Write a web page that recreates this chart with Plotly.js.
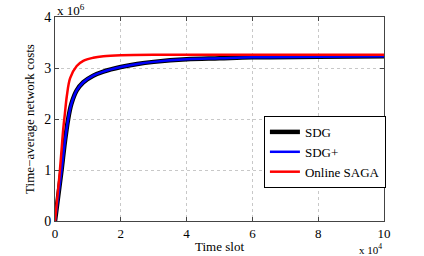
<!DOCTYPE html>
<html>
<head>
<meta charset="utf-8">
<script src="https://cdn.plot.ly/plotly-3.0.1.min.js"></script>
<style>
  html, body { margin: 0; padding: 0; background: #fff; }
  #myDiv { width: 424px; height: 256px; }
</style>
</head>
<body>
<div id="myDiv"></div>
<script>
// time slot (x 10^4)
var xSdg = [0, 0.1, 0.2, 0.3, 0.4, 0.5, 0.66, 0.86, 1.16, 1.47, 2, 2.5, 3, 4, 5, 6, 8, 10];
// costs (x 10^6)
var ySdg = [0, 0.5, 1.0, 1.55, 2.0, 2.3, 2.56, 2.72, 2.85, 2.93, 3.02, 3.08, 3.12, 3.17, 3.19, 3.21, 3.22, 3.23];
var ySdgPlus = [0, 0.5, 1.0, 1.55, 2.0, 2.3, 2.56, 2.72, 2.85, 2.93, 3.02, 3.08, 3.12, 3.17, 3.19, 3.21, 3.22, 3.23];

var xSaga = [0, 0.1, 0.15, 0.2, 0.25, 0.3, 0.36, 0.46, 0.66, 0.86, 1.16, 1.47, 2, 3, 4, 6, 8, 10];
var ySaga = [0, 0.65, 1.0, 1.4, 1.8, 2.1, 2.45, 2.8, 3.04, 3.14, 3.2, 3.23, 3.25, 3.26, 3.26, 3.26, 3.26, 3.26];

var serif = 'Liberation Serif';

var trace1 = {
  name: 'SDG',
  x: xSdg,
  y: ySdg,
  type: 'scatter',
  mode: 'lines',
  line: {color: '#000000', width: 4.5, shape: 'spline', smoothing: 1}
};
var trace2 = {
  name: 'SDG+',
  x: xSdg,
  y: ySdgPlus,
  type: 'scatter',
  mode: 'lines',
  line: {color: '#0000ff', width: 2.5, shape: 'spline', smoothing: 1}
};
var trace3 = {
  name: 'Online SAGA',
  x: xSaga,
  y: ySaga,
  type: 'scatter',
  mode: 'lines',
  line: {color: '#ff0000', width: 2.5, shape: 'spline', smoothing: 1}
};

var data = [trace1, trace2, trace3];
var layout = {
  width: 424,
  height: 256,
  margin: {l: 55, r: 40, t: 17, b: 35},
  paper_bgcolor: '#ffffff',
  plot_bgcolor: '#ffffff',
  font: {family: serif, size: 13, color: '#000'},
  showlegend: true,
  legend: {
    x: 0.635, y: 0.515, xanchor: 'left', yanchor: 'top',
    bgcolor: '#ffffff', bordercolor: '#000000', borderwidth: 1,
    font: {family: serif, size: 13}, tracegroupgap: 0
  },
  xaxis: {
    title: {text: 'Time slot', standoff: 2, font: {family: serif, size: 13}},
    range: [0, 10], tickvals: [0, 2, 4, 6, 8, 10],
    showline: true, linecolor: '#444', linewidth: 1, mirror: 'ticks',
    ticks: 'inside', ticklen: 4, tickcolor: '#444',
    showgrid: true, gridcolor: '#c8c8c8', griddash: 'dot', gridwidth: 1,
    zeroline: false, tickfont: {family: serif, size: 13}
  },
  yaxis: {
    title: {text: 'Time\u2212average network costs', standoff: 6, font: {family: serif, size: 13}},
    range: [0, 4], tickvals: [0, 1, 2, 3, 4],
    showline: true, linecolor: '#444', linewidth: 1, mirror: 'ticks',
    ticks: 'inside', ticklen: 4, tickcolor: '#444',
    showgrid: true, gridcolor: '#c8c8c8', griddash: 'dot', gridwidth: 1,
    zeroline: false, tickfont: {family: serif, size: 14}
  },
  annotations: [
    {text: 'x 10<sup>6</sup>', xref: 'paper', yref: 'paper', x: 0, y: 1,
     xanchor: 'left', yanchor: 'bottom', showarrow: false,
     font: {family: serif, size: 13}, yshift: -3},
    {text: 'x 10<sup>4</sup>', xref: 'paper', yref: 'paper', x: 1, y: 0,
     xanchor: 'right', yanchor: 'top', showarrow: false,
     font: {family: serif, size: 11}, yshift: -19}
  ]
};
Plotly.newPlot('myDiv', data, layout, {displayModeBar: false, staticPlot: true});
</script>
</body>
</html>
